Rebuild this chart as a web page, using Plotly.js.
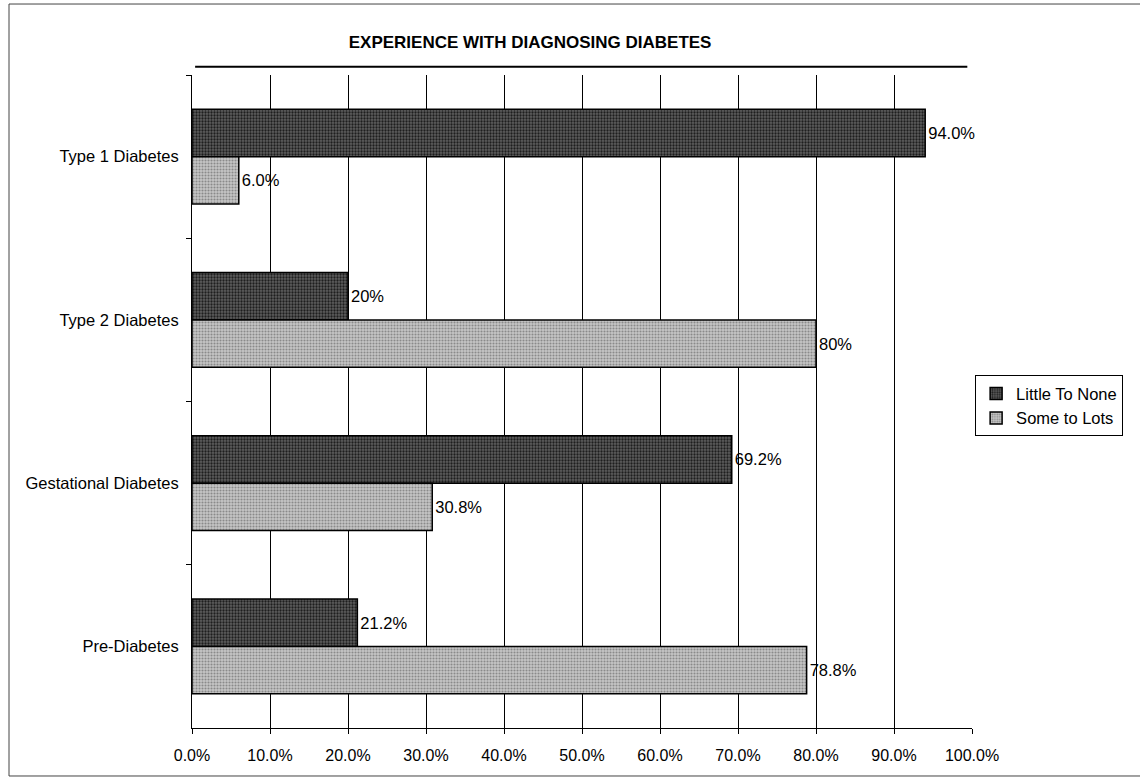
<!DOCTYPE html>
<html>
<head>
<meta charset="utf-8">
<script src="https://cdn.plot.ly/plotly-3.0.1.min.js"></script>
<style>
  html, body { margin: 0; padding: 0; background: #ffffff; }
  #chart { width: 1140px; height: 778px; }
</style>
</head>
<body>
<div id="chart"></div>
<script>
// Survey answers: experience with diagnosing each type of diabetes
const categories = ["Type 1 Diabetes", "Type 2 Diabetes", "Gestational Diabetes", "Pre-Diabetes"];
const littleToNone = [94.0, 20, 69.2, 21.2];
const someToLots = [6.0, 80, 30.8, 78.8];
const littleLabels = ["94.0%", "20%", "69.2%", "21.2%"];
const someLabels = ["6.0%", "80%", "30.8%", "78.8%"];
const xTickValues = [0, 10, 20, 30, 40, 50, 60, 70, 80, 90, 100];
const xTickLabels = ["0.0%", "10.0%", "20.0%", "30.0%", "40.0%", "50.0%", "60.0%", "70.0%", "80.0%", "90.0%", "100.0%"];

const font = "Liberation Sans, Arial, sans-serif";

const traces = [
  {
    type: "bar", orientation: "h", name: "Little To None",
    x: littleToNone, y: categories,
    text: littleLabels, textposition: "outside", cliponaxis: false,
    textfont: { family: font, size: 16.5, color: "#000" },
    marker: {
      color: "#4a4a4a",
      line: { color: "#000", width: 1.5 },
      pattern: { shape: ".", size: 3, solidity: 0.45, fgcolor: "#1e1e1e", bgcolor: "#5e5e5e" }
    }
  },
  {
    type: "bar", orientation: "h", name: "Some to Lots",
    x: someToLots, y: categories,
    text: someLabels, textposition: "outside", cliponaxis: false,
    textfont: { family: font, size: 16.5, color: "#000" },
    marker: {
      color: "#b0b0b0",
      line: { color: "#000", width: 1.5 },
      pattern: { shape: ".", size: 3, solidity: 0.4, fgcolor: "#8a8a8a", bgcolor: "#c6c6c6" }
    }
  }
];

const layout = {
  width: 1140, height: 778,
  paper_bgcolor: "#ffffff", plot_bgcolor: "#ffffff",
  margin: { l: 192, r: 168, t: 75, b: 50 },
  font: { family: font, size: 16, color: "#000" },
  title: {
    text: "<b>EXPERIENCE WITH DIAGNOSING DIABETES</b>",
    font: { family: font, size: 17, color: "#000" },
    x: 0.465, xanchor: "center", y: 0.946, yanchor: "middle"
  },
  barmode: "group", bargap: 0.42, bargroupgap: 0,
  showlegend: true,
  legend: {
    x: 1.004, xanchor: "left", y: 0.54, yanchor: "top",
    bordercolor: "#000", borderwidth: 1, bgcolor: "#fff",
    font: { family: font, size: 16.5, color: "#000" },
    tracegroupgap: 2
  },
  xaxis: {
    range: [0, 100], tickvals: xTickValues, ticktext: xTickLabels,
    showgrid: true, gridcolor: "#000", gridwidth: 1,
    showline: true, linecolor: "#000", linewidth: 1,
    ticks: "outside", ticklen: 5, tickcolor: "#000",
    zeroline: false, fixedrange: true,
    ticklabelstandoff: 8,
    tickfont: { family: font, size: 16, color: "#000" }
  },
  yaxis: {
    autorange: "reversed", type: "category",
    showline: true, linecolor: "#000", linewidth: 1,
    ticks: "outside", ticklen: 5, tickcolor: "#000", tickson: "boundaries",
    showgrid: false, zeroline: false, fixedrange: true,
    ticklabelstandoff: 9,
    tickfont: { family: font, size: 16.5, color: "#000" }
  },
  shapes: [
    // heavy rule above the plot area
    { type: "line", xref: "paper", yref: "paper", x0: 0.004, x1: 0.994, y0: 1.0125, y1: 1.0125,
      line: { color: "#000", width: 2 } },
    // frame around the whole chart
    { type: "rect", xref: "paper", yref: "paper", x0: -0.2346, x1: 1.26, y0: -0.0735, y1: 1.1087,
      line: { color: "#444", width: 1 }, layer: "below" }
  ]
};

Plotly.newPlot("chart", traces, layout, { displayModeBar: false, staticPlot: true });
</script>
</body>
</html>
